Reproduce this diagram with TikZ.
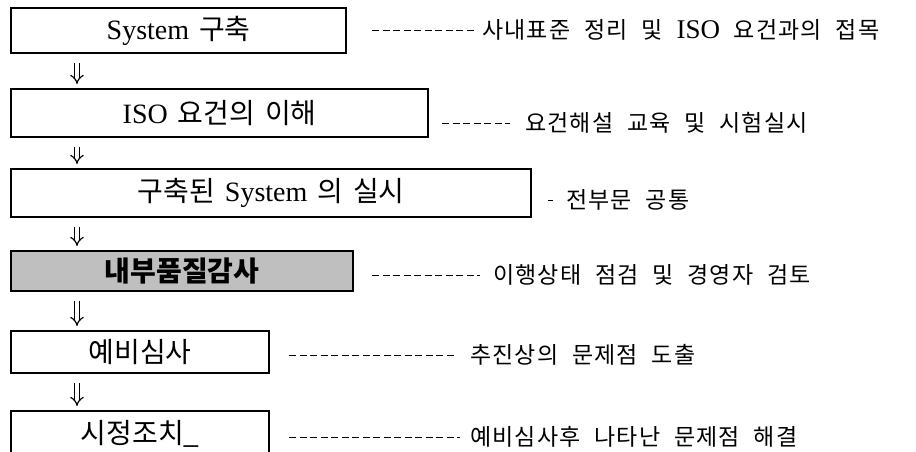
\documentclass[tikz,border=0pt]{standalone}
\usepackage{fontspec}
\setmainfont{Noto Sans CJK KR}[WordSpace=1.6]
\newfontfamily\lat{Liberation Serif}
\newfontfamily\krnote{Noto Sans CJK KR}[LetterSpace=5,WordSpace=2.2]
\usetikzlibrary{arrows.meta}
\begin{document}
\begin{tikzpicture}[x=1pt,y=-1pt,
	box/.style={draw,line width=2.4pt,anchor=north west,inner sep=0pt,
		font=\fontsize{28}{32}\selectfont},
	note/.style={anchor=west,inner sep=0pt,font=\krnote\fontsize{23}{27}\selectfont},
	lead/.style={line width=1pt,dash pattern=on 7pt off 3.5pt},
	flow/.style={double,double distance=3.5pt,line width=1.2pt,-{Implies[scale=1.8]},
		shorten <=9pt,shorten >=4pt}]
	\useasboundingbox (0,0) rectangle (916,451);
	\node[box,minimum width=335pt,minimum height=45pt] (sys) at (10,7) {{\lat System} 구축};
	\node[box,minimum width=417pt,minimum height=48pt] (iso) at (10,88) {{\lat ISO} 요건의 이해};
	\node[box,minimum width=520pt,minimum height=48pt] (run) at (10,168) {구축된 {\lat System} 의 실시};
	\node[box,minimum width=342pt,minimum height=40pt,fill=black!25] (audit) at (10,250) {\bfseries 내부품질감사};
	\node[box,minimum width=258pt,minimum height=42pt] (pre) at (10,330) {예비심사};
	\node[box,minimum width=258pt,minimum height=46pt] (fix) at (10,410) {시정조치\_};
	\draw[flow] ([xshift=67pt]sys.south west) -- ([xshift=67pt]iso.north west);
	\draw[flow] ([xshift=67pt]iso.south west) -- ([xshift=67pt]run.north west);
	\draw[flow] ([xshift=67pt]run.south west) -- ([xshift=67pt]audit.north west);
	\draw[flow] ([xshift=67pt]audit.south west) -- ([xshift=67pt]pre.north west);
	\draw[flow] ([xshift=67pt]pre.south west) -- ([xshift=67pt]fix.north west);
	% notes on the right
	\node[note] (n1) at (482,30) {사내표준 정리 및 {\lat\fontsize{27}{30}\selectfont ISO} 요건과의 접목};
	\node[note] (n2) at (525,123) {요건해설 교육 및 시험실시};
	\node[note] (n3) at (566,200) {전부문 공통};
	\node[note] (n4) at (493,275) {이행상태 점검 및 경영자 검토};
	\node[note] (n5) at (470,355) {추진상의 문제점 도출};
	\node[note] (n6) at (470,437) {예비심사후 나타난 문제점 해결};
	\draw[lead,shorten <=25pt,shorten >=8pt] (sys.east |- n1.west) -- (n1.west);
	\draw[lead,shorten <=13pt,shorten >=15pt] (iso.east |- n2.west) -- (n2.west);
	\draw[lead,shorten <=16pt,shorten >=13pt] (run.east |- n3.west) -- (n3.west);
	\draw[lead,shorten <=18pt,shorten >=13pt] (audit.east |- n4.west) -- (n4.west);
	\draw[lead,shorten <=19pt,shorten >=14pt] (pre.east |- n5.west) -- (n5.west);
	\draw[lead,shorten <=19pt,shorten >=10pt] (fix.east |- n6.west) -- (n6.west);
\end{tikzpicture}
\end{document}
